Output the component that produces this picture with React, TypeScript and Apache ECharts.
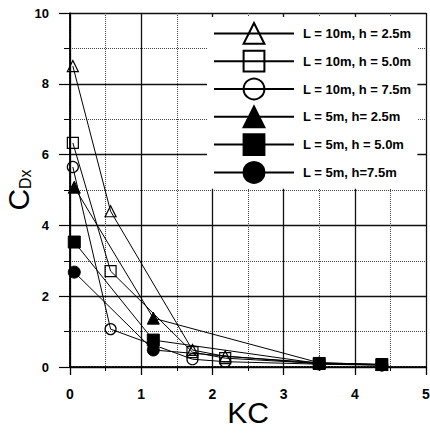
import React, { useEffect, useRef } from "react";
import * as echarts from "echarts";

const kcL10 = [0.04, 0.57, 1.72, 2.18, 3.5, 4.38];
const cdL10h25 = [8.5, 4.4, 0.48, 0.3, 0.12, 0.07];
const cdL10h50 = [6.33, 2.71, 0.42, 0.25, 0.1, 0.06];
const cdL10h75 = [5.65, 1.07, 0.22, 0.15, 0.08, 0.05];

const kcL5 = [0.06, 1.17, 3.5, 4.38];
const cdL5h25 = [5.08, 1.38, 0.12, 0.07];
const cdL5h50 = [3.53, 0.76, 0.1, 0.07];
const cdL5h75 = [2.68, 0.48, 0.09, 0.06];

const seriesNames = [
  "L = 10m, h = 2.5m",
  "L = 10m, h = 5.0m",
  "L = 10m, h = 7.5m",
  "L = 5m, h= 2.5m",
  "L = 5m, h = 5.0m",
  "L = 5m, h=7.5m",
];

const xTicks = [0, 1, 2, 3, 4, 5];
const yTicks = [0, 2, 4, 6, 8, 10];

const FONT = "'Liberation Sans', Arial, sans-serif";

export default function App() {
  const ref = useRef<HTMLDivElement>(null);

  useEffect(() => {
    if (!ref.current) return;
    const chart = echarts.init(ref.current, undefined, { renderer: "svg" });

    const zip = (xs: number[], ys: number[]) => xs.map((x, i) => [x, ys[i]]);

    const mk = (
      name: string,
      data: number[][],
      symbol: string,
      filled: boolean,
      size: number
    ) => ({
      name,
      type: "line",
      data,
      symbol,
      symbolSize: size,
      showSymbol: true,
      xAxisIndex: 0,
      yAxisIndex: 0,
      lineStyle: { color: "#000", width: 1 },
      itemStyle: filled
        ? { color: "#000", borderColor: "#000", borderWidth: 1 }
        : { color: "rgba(0,0,0,0)", borderColor: "#000", borderWidth: 1.2 },
      emphasis: { disabled: true },
      z: 3,
    });

    const series = [
      mk(seriesNames[0], zip(kcL10, cdL10h25), "triangle", false, 11),
      mk(seriesNames[1], zip(kcL10, cdL10h50), "rect", false, 11),
      mk(seriesNames[2], zip(kcL10, cdL10h75), "circle", false, 11),
      mk(seriesNames[3], zip(kcL5, cdL5h25), "triangle", true, 12),
      mk(seriesNames[4], zip(kcL5, cdL5h50), "rect", true, 12),
      mk(seriesNames[5], zip(kcL5, cdL5h75), "circle", true, 12),
    ];

    const option: any = {
      animation: false,
      backgroundColor: "#fff",
      textStyle: { fontFamily: FONT },
      grid: {
        left: 70,
        right: 4,
        top: 13,
        bottom: 68,
        containLabel: false,
        outerBoundsMode: "none",
      },
      legend: {
        orient: "vertical",
        left: 207,
        top: 17,
        padding: [5, 6, 5, 6],
        backgroundColor: "#fff",
        itemWidth: 80,
        itemHeight: 26,
        itemGap: 5,
        selectedMode: false,
        data: seriesNames,
        textStyle: {
          fontFamily: FONT,
          fontSize: 13,
          fontWeight: "bold",
          color: "#000",
          padding: [0, 0, 0, 4],
        },
        z: 10,
      },
      xAxis: [
        {
          type: "value",
          position: "bottom",
          min: xTicks[0],
          max: xTicks[xTicks.length - 1],
          interval: 1,
          name: "KC",
          nameLocation: "middle",
          nameGap: 30,
          nameMoveOverlap: false,
          nameTextStyle: { fontFamily: FONT, fontSize: 30, lineHeight: 30, color: "#000" },
          axisLine: { show: true, lineStyle: { color: "#000", width: 1.5, type: "dotted" } },
          axisTick: { show: true, inside: false, length: 8, lineStyle: { color: "#000", width: 1.3 } },
          minorTick: { show: true, splitNumber: 2, length: 4, lineStyle: { color: "#000", width: 1 } },
          axisLabel: {
            fontFamily: FONT,
            fontSize: 14,
            fontWeight: "bold",
            color: "#000",
            margin: 20,
          },
          splitLine: { show: true, lineStyle: { color: "#111", width: 1.3, type: "solid" } },
          minorSplitLine: { show: true, lineStyle: { color: "#444", width: 1, type: "dotted" } },
        },
        {
          type: "value",
          position: "top",
          min: xTicks[0],
          max: xTicks[xTicks.length - 1],
          interval: 1,
          axisLine: { show: true, lineStyle: { color: "#000", width: 1.5, type: "dotted" } },
          axisTick: { show: false },
          axisLabel: { show: false },
          splitLine: { show: false },
        },
      ],
      yAxis: [
        {
          type: "value",
          position: "left",
          min: yTicks[0],
          max: yTicks[yTicks.length - 1],
          interval: 2,
          name: "{c|C}{s|Dx}",
          nameLocation: "middle",
          nameGap: 37,
          nameMoveOverlap: false,
          nameRotate: 90,
          nameTextStyle: {
            color: "#000",
            rich: {
              c: { fontFamily: FONT, fontSize: 30, color: "#000", lineHeight: 30, verticalAlign: "bottom" },
              s: { fontFamily: FONT, fontSize: 16, color: "#000", lineHeight: 30, verticalAlign: "bottom" },
            },
          },
          axisLine: { show: true, lineStyle: { color: "#000", width: 1.5 } },
          axisTick: { show: true, inside: false, length: 11, lineStyle: { color: "#000", width: 1.2 } },
          minorTick: { show: true, splitNumber: 2, length: 6, lineStyle: { color: "#000", width: 1 } },
          axisLabel: {
            fontFamily: FONT,
            fontSize: 13,
            fontWeight: "bold",
            color: "#000",
            margin: 21,
          },
          splitLine: { show: true, lineStyle: { color: "#111", width: 1.3, type: "solid" } },
          minorSplitLine: { show: true, lineStyle: { color: "#444", width: 1, type: "dotted" } },
        },
        {
          type: "value",
          position: "right",
          min: yTicks[0],
          max: yTicks[yTicks.length - 1],
          interval: 2,
          axisLine: { show: true, lineStyle: { color: "#000", width: 1.5, type: "dotted" } },
          axisTick: { show: false },
          axisLabel: { show: false },
          splitLine: { show: false },
        },
      ],
      series,
    };

    chart.setOption(option);
    return () => chart.dispose();
  }, []);

  return (
    <div
      ref={ref}
      style={{ position: "fixed", left: 0, top: 0, width: 430, height: 435 }}
    />
  );
}
